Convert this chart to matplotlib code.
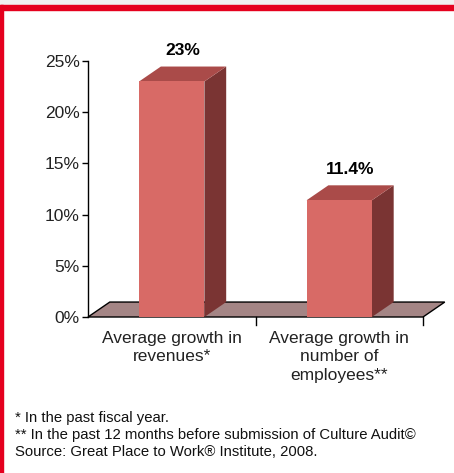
import matplotlib
matplotlib.use('Agg')
import matplotlib.pyplot as plt
from matplotlib.patches import Polygon, Rectangle
import numpy as np

plt.rcParams['font.family'] = ['Liberation Sans', 'DejaVu Sans']

# Data
categories = ['Average growth in\nrevenues*', 'Average growth in\nnumber of\nemployees**']
values = [23, 11.4]
value_labels = ['23%', '11.4%']
y_ticks = [0, 5, 10, 15, 20, 25]
y_tick_labels = ['0%', '5%', '10%', '15%', '20%', '25%']
footnotes = ['* In the past fiscal year.',
             '** In the past 12 months before submission of Culture Audit\u00a9',
             'Source: Great Place to Work\u00ae Institute, 2008.']

FRONT = '#d86a66'
SIDE = '#7a3433'
TOP = '#aa4b49'
FLOOR = '#a48585'
RED = '#e5001e'

W, H = 454, 473
fig = plt.figure(figsize=(W / 100, H / 100), dpi=100)
fig.patch.set_facecolor('white')

# frame: grey strip, red top rule and left rule
fig.patches.append(Rectangle((0, (H - 5) / H), 1, 5 / H, transform=fig.transFigure,
                             color='#f0f0f0', zorder=0))
fig.patches.append(Rectangle((0, (H - 10) / H), 1, 5 / H, transform=fig.transFigure,
                             color=RED, zorder=1))
fig.patches.append(Rectangle((0, 0), 3 / W, (H - 5) / H, transform=fig.transFigure,
                             color=RED, zorder=1))

ax = fig.add_axes([88 / W, (H - 317) / H, (423 - 88) / W, (317 - 61) / H])
ax.set_xlim(-0.5, len(categories) - 0.5)
ax.set_ylim(0, 25)
ax.patch.set_visible(False)

dx, dy = 0.13, 1.46   # depth offset of the 3D effect
bw = 0.39

# floor
x0, x1 = -0.5, len(categories) - 0.5
ax.add_patch(Polygon([(x0, 0), (x1, 0), (x1 + dx, dy), (x0 + dx, dy)], closed=True,
                     facecolor=FLOOR, edgecolor='black', linewidth=1.0,
                     clip_on=False, zorder=1))

x = np.arange(len(categories))
for xi, v, lab in zip(x, values, value_labels):
    l, r = xi - bw / 2, xi + bw / 2
    ax.add_patch(Polygon([(r, 0), (r + dx, dy), (r + dx, v + dy), (r, v)],
                         facecolor=SIDE, edgecolor='none', clip_on=False, zorder=2))
    ax.add_patch(Polygon([(l, v), (r, v), (r + dx, v + dy), (l + dx, v + dy)],
                         facecolor=TOP, edgecolor='none', clip_on=False, zorder=2))
    ax.bar(xi, v, width=bw, color=FRONT, zorder=3)
    ax.annotate(lab, (xi + dx / 2, v + dy), xytext=(0, 6), textcoords='offset points',
                ha='center', va='bottom', fontsize=12.5, fontweight='bold',
                annotation_clip=False)

for s in ['top', 'right', 'bottom']:
    ax.spines[s].set_visible(False)
ax.spines['left'].set_linewidth(1.0)

ax.set_yticks(y_ticks)
ax.set_yticklabels(y_tick_labels, fontsize=12.5, color='#222222')
ax.tick_params(axis='y', length=4, width=1, pad=2)

ax.set_xticks(x)
ax.set_xticklabels(categories, fontsize=12.5, color='#222222', linespacing=1.28)
ax.tick_params(axis='x', length=0, pad=10)
for xt in x + 0.5:
    ax.plot([xt, xt], [0, -0.75], color='black', linewidth=1.0, clip_on=False)

for i, t in enumerate(footnotes):
    fig.text(15 / W, 1 - (418 + 17 * i) / H, t, fontsize=10.7, ha='left', va='center',
             color='#111111')

plt.savefig('out.png', dpi=100, facecolor='white')
plt.close()
